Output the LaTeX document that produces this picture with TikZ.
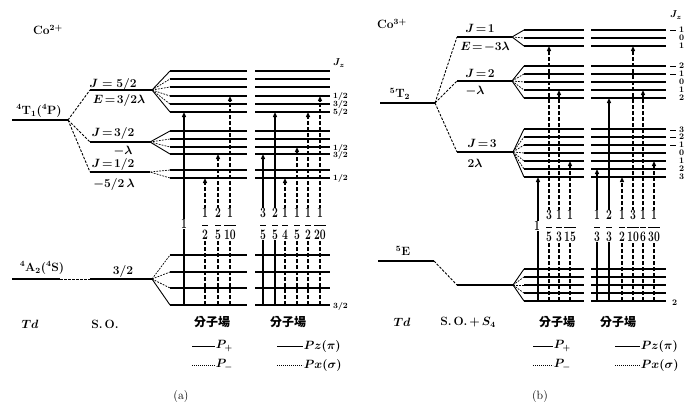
\documentclass[tikz,border=0pt]{standalone}
\usepackage{fontspec}
\usepackage{amsmath}
\newfontfamily\cjk{Noto Sans CJK TC}
\usetikzlibrary{arrows.meta}

\begin{document}
\begin{tikzpicture}[x=1pt, y=-1pt, font=\bfseries\boldmath]
	\useasboundingbox (0,0) rectangle (688,405);
	% Styles
	\tikzstyle{term} = [line width=1.5pt]
	\tikzstyle{sub} = [line width=1.4pt]
	\tikzstyle{corr} = [line width=0.9pt, dash pattern=on 2.5pt off 1.5pt]
	\tikzstyle{fanin} = [line width=0.7pt, dash pattern=on 1.8pt off 1.2pt]
	\tikzstyle{fanout} = [line width=0.9pt]
	\tikzstyle{pplus} = [line width=1.2pt, -{Triangle[length=5pt,width=4pt]}]
	\tikzstyle{pminus} = [pplus, dash pattern=on 4pt off 2pt]
	\tikzstyle{lab} = [inner sep=0.5pt, font=\fontsize{12}{13}\selectfont\bfseries\boldmath]
	\tikzstyle{ratio} = [fill=white, inner sep=0.3pt, font=\fontsize{15}{16}\selectfont\bfseries\boldmath]
	\tikzstyle{jz} = [inner sep=0pt, anchor=west, font=\fontsize{8.5}{9}\selectfont\bfseries\boldmath]
	\tikzstyle{field} = [inner sep=0.5pt, font=\fontsize{12}{13}\selectfont\cjk\bfseries]
	\tikzstyle{key} = [line width=0.7pt]
	\tikzstyle{keydot} = [line width=0.7pt, dash pattern=on 0.8pt off 1.2pt]
	\newcommand{\nar}[1]{\scalebox{0.72}[1]{$#1$}}

	%%% (a) Co2+
	\node[lab] (co2) at (48,30) {Co$^{2+}$};
	% Terms and S.O. levels
	\coordinate (t1l) at (12,120);
	\coordinate (t1r) at (68,120);
	\coordinate (j52l) at (90,90);
	\coordinate (j52r) at (152,90);
	\coordinate (j32l) at (90,142);
	\coordinate (j32r) at (150,142);
	\coordinate (j12l) at (90,172);
	\coordinate (j12r) at (150,172);
	\coordinate (a2l) at (12,279);
	\coordinate (a2r) at (60,279);
	\coordinate (s32l) at (90,279);
	\coordinate (s32r) at (152,279);
	\draw[term] (t1l) -- (t1r);
	\draw[term] (j52l) -- (j52r);
	\draw[term] (j32l) -- (j32r);
	\draw[term] (j12l) -- (j12r);
	\draw[term] (a2l) -- (a2r);
	\draw[term] (s32l) -- (s32r);
	\draw[corr] (t1r) -- (j52l);
	\draw[corr] (t1r) -- (j32l);
	\draw[corr] (t1r) -- (j12l);
	\draw[corr] (a2r) -- (s32l);
	\node[lab] (t1) at (39,111) {$^4$T$_1$($^4$P)};
	\node[lab] (a2) at (42,268) {$^4$A$_2$($^4$S)};
	\node[lab] (j52) at (113,84) {$J=5/2$};
	\node[lab] (e52) at (119,100) {$E\!=\!3/2\lambda$};
	\node[lab] (j32) at (113,133) {$J\!=\!3/2$};
	\node[lab] (e32) at (123,151) {$-\lambda$};
	\node[lab] (j12) at (113,164) {$J\!=\!1/2$};
	\node[lab] (e12) at (114,184) {$-5/2\,\lambda$};
	\node[lab] (s32) at (123,271) {$3/2$};

	% Molecular field levels
	\foreach \y in {71,79,87,96,104,112,131,139,147,154,170,178,255,272,288,305}{
		\draw[sub] (170,\y) -- (247,\y);
		\draw[sub] (255,\y) -- (330,\y);
	}
	\foreach \y in {79,87,96,104} \draw[fanin] (j52r) -- (170,\y);
	\draw[fanout] (170,71) -- (j52r) -- (170,112);
	\foreach \y in {139,147} \draw[fanin] (j32r) -- (170,\y);
	\draw[fanout] (170,131) -- (j32r) -- (170,154);
	\draw[fanin] (170,170) -- (j12r) -- (170,178);
	\foreach \y in {255,272,288} \draw[fanin] (s32r) -- (170,\y);
	\draw[fanout] (s32r) -- (170,305);

	% Transitions
	\foreach \x/\y/\s in {184/112/pplus, 205/178/pminus, 218/154/pminus, 230/96/pminus,
		263/154/pplus, 275/112/pplus, 285/178/pminus, 297/147/pminus, 308/112/pminus, 320/96/pminus}
		\draw[\s] (\x,305) -- (\x,\y);
	\foreach \x/\t in {184/1, 205/\dfrac{1}{2}, 218/\dfrac{2}{5}, 230/\dfrac{1}{10},
		263/\dfrac{3}{5}, 275/\dfrac{2}{5}, 285/\dfrac{1}{4}, 297/\dfrac{1}{5}, 308/\dfrac{1}{2}, 320/\dfrac{1}{20}}
		\node[ratio] (ra\x) at (\x,224) {\nar{\t}};

	% Jz
	\node[jz] (jza) at (333,63) {\fontsize{10}{11}\selectfont$J_z$};
	\foreach \y/\t in {96/{1/2}, 104/{3/2}, 112/{5/2}, 148/{1/2}, 155/{3/2}, 178/{1/2}, 306/{3/2}}
		\node[jz] (jza\y) at (333,\y) {$\t$};

	% Bottom labels
	\node[lab] (tda) at (30,324) {$Td$};
	\node[lab] (soa) at (105,324) {S.\,O.};
	\node[field] (fa1) at (212,322) {分子場};
	\node[field] (fa2) at (288,322) {分子場};
	\draw[key] (192,346) -- (215,346) node[lab, right] (ppa) {$P_+$};
	\draw[keydot] (192,365) -- (215,365) node[lab, right] (pma) {$P_-$};
	\draw[key] (277,346) -- (303,346) node[lab, right] (pza) {$Pz(\pi)$};
	\draw[keydot] (277,365) -- (303,365) node[lab, right] (pxa) {$Px(\sigma)$};
	\node[inner sep=0.5pt, font=\fontsize{12}{13}\selectfont\mdseries] (capa) at (181,396) {(a)};

	%%% (b) Co3+
	\node[lab] (co3) at (392,24) {Co$^{3+}$};
	% Terms and S.O. levels
	\coordinate (t2l) at (380,103);
	\coordinate (t2r) at (435,103);
	\coordinate (j1l) at (457,37);
	\coordinate (j1r) at (512,37);
	\coordinate (j2l) at (457,81);
	\coordinate (j2r) at (512,81);
	\coordinate (j3l) at (457,152);
	\coordinate (j3r) at (513,152);
	\coordinate (el) at (378,261);
	\coordinate (er) at (434,261);
	\coordinate (e2l) at (457,285);
	\coordinate (e2r) at (513,285);
	\draw[term] (t2l) -- (t2r);
	\draw[term] (j1l) -- (j1r);
	\draw[term] (j2l) -- (j2r);
	\draw[term] (j3l) -- (j3r);
	\draw[term] (el) -- (er);
	\draw[term] (e2l) -- (e2r);
	\draw[corr] (t2r) -- (j1l);
	\draw[corr] (t2r) -- (j2l);
	\draw[corr] (t2r) -- (j3l);
	\draw[corr] (er) -- (e2l);
	\node[lab] (t2) at (400,94) {$^5$T$_2$};
	\node[lab] (e5) at (403,251) {$^5$E};
	\node[lab] (j1) at (480,28) {$J\!=\!1$};
	\node[lab] (e1) at (485,47) {$E\!=\!-3\lambda$};
	\node[lab] (j2) at (480,73) {$J\!=\!2$};
	\node[lab] (e2) at (475,91) {$-\lambda$};
	\node[lab] (j3) at (482,143) {$J\!=\!3$};
	\node[lab] (e3) at (475,163) {$2\lambda$};

	% Molecular field levels
	\foreach \y in {30,38,46,66,74,82,90,98,129,137,145,153,161,169,177,269,277,285,293,301}{
		\draw[sub] (524,\y) -- (584,\y);
		\draw[sub] (591,\y) -- (666,\y);
	}
	\draw[fanin] (j1r) -- (524,38);
	\draw[fanout] (524,30) -- (j1r) -- (524,46);
	\foreach \y in {74,82,90} \draw[fanin] (j2r) -- (524,\y);
	\draw[fanout] (524,66) -- (j2r) -- (524,98);
	\foreach \y in {137,145,153,161,169} \draw[fanin] (j3r) -- (524,\y);
	\draw[fanout] (524,129) -- (j3r) -- (524,177);
	\foreach \y in {277,285,293} \draw[fanin] (e2r) -- (524,\y);
	\draw[fanout] (524,269) -- (e2r) -- (524,301);

	% Transitions
	\foreach \x/\y/\s in {538/177/pplus, 549/46/pminus, 559/90/pminus, 570/161/pminus,
		597/169/pplus, 609/98/pplus, 622/177/pminus, 633/46/pminus, 643/90/pminus, 654/161/pminus}
		\draw[\s] (\x,301) -- (\x,\y);
	\foreach \x/\t in {537/1, 549/\dfrac{3}{5}, 559/\dfrac{1}{3}, 570/\dfrac{1}{15},
		597/\dfrac{1}{3}, 609/\dfrac{2}{3}, 622/\dfrac{1}{2}, 633/\dfrac{3}{10}, 643/\dfrac{1}{6}, 654/\dfrac{1}{30}}
		\node[ratio] (rb\x) at (\x,226) {\nar{\t}};

	% Jz
	\node[jz] (jzb) at (670,15) {\fontsize{10}{11}\selectfont$J_z$};
	\foreach \y/\t in {30/{\rule[2.2pt]{6pt}{0.6pt}\hspace{3pt}1}, 38/{\hspace{9pt}0}, 46/{\hspace{9pt}1},
		66/{\rule[2.2pt]{6pt}{0.6pt}\hspace{3pt}2}, 74/{\rule[2.2pt]{6pt}{0.6pt}\hspace{3pt}1}, 82/{\hspace{9pt}0}, 90/{\hspace{9pt}1}, 98/{\hspace{9pt}2},
		130/{\rule[2.2pt]{6pt}{0.6pt}\hspace{3pt}3}, 137/{\rule[2.2pt]{6pt}{0.6pt}\hspace{3pt}2}, 145/{\rule[2.2pt]{6pt}{0.6pt}\hspace{3pt}1}, 153/{\hspace{9pt}0},
		161/{\hspace{9pt}1}, 169/{\hspace{9pt}2}, 177/{\hspace{9pt}3}}
		\node[jz] (jzb\y) at (670,\y) {\t};
	\node[jz] (jzb2) at (670,303) {\hspace{2pt}2};

	% Bottom labels
	\node[lab] (tdb) at (402,322) {$Td$};
	\node[lab] (sob) at (468,322) {S.\,O.\,+\,$S_4$};
	\node[field] (fb1) at (557,322) {分子場};
	\node[field] (fb2) at (618,322) {分子場};
	\draw[key] (533,346) -- (553,346) node[lab, right] (ppb) {$P_+$};
	\draw[keydot] (533,365) -- (553,365) node[lab, right] (pmb) {$P_-$};
	\draw[key] (615,346) -- (640,346) node[lab, right] (pzb) {$Pz(\pi)$};
	\draw[keydot] (615,365) -- (640,365) node[lab, right] (pxb) {$Px(\sigma)$};
	\node[inner sep=0.5pt, font=\fontsize{12}{13}\selectfont\mdseries] (capb) at (540,396) {(b)};
\end{tikzpicture}
\end{document}
